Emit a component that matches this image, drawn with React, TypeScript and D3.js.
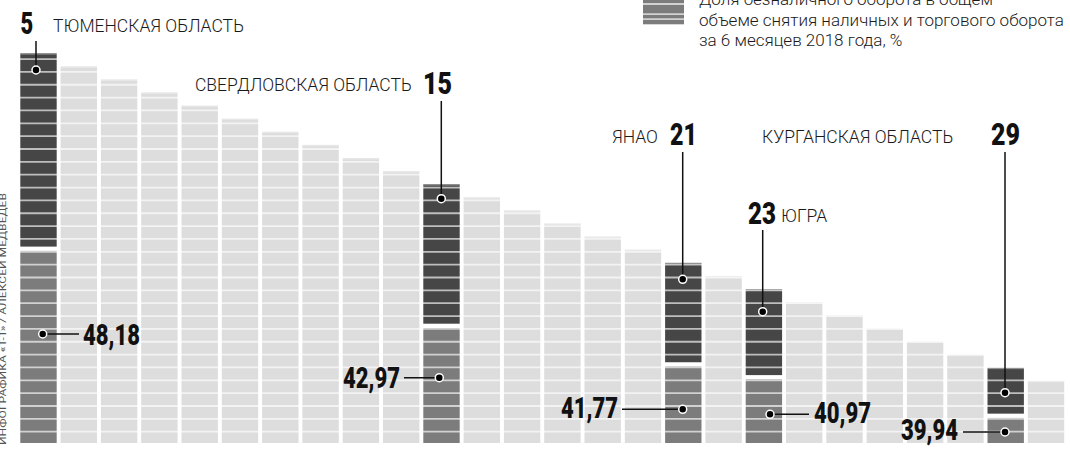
import React, { useEffect, useRef } from 'react';
import * as d3 from 'd3';

// Rank of each region (bars run from 5th to 30th place)
const ranks = [5, 6, 7, 8, 9, 10, 11, 12, 13, 14, 15, 16, 17, 18, 19, 20, 21, 22, 23, 24, 25, 26, 27, 28, 29, 30];
// Bar heights in stripe units
const barLevels = [30.45, 29.43, 28.41, 27.4, 26.38, 25.36, 24.34, 23.32, 22.3, 21.28, 20.26, 19.24, 18.22,
  17.2, 16.18, 15.16, 14.14, 13.12, 12.1, 11.08, 10.06, 9.04, 8.02, 7.0, 5.98, 4.96];

// Highlighted regions
const hlRanks = [5, 15, 21, 23, 29];
const hlNames = ['ТЮМЕНСКАЯ ОБЛАСТЬ', 'СВЕРДЛОВСКАЯ ОБЛАСТЬ', 'ЯНАО', 'ЮГРА', 'КУРГАНСКАЯ ОБЛАСТЬ'];
const hlShares = [48.18, 42.97, 41.77, 40.97, 39.94];
// stripe where the grey (cashless) part starts
const hlSplit = [15, 9, 6, 5, 2];

const legendLines = [
  'Доля безналичного оборота в общем',
  'объеме снятия наличных и торгового оборота',
  'за 6 месяцев 2018 года, %'
];
const credit = 'ИНФОГРАФИКА «Т-Т» / АЛЕКСЕЙ МЕДВЕДЕВ';

const FONT = "Roboto, 'Noto Sans', sans-serif";

const App = () => {
  const svgRef = useRef<SVGSVGElement>(null);

  useEffect(() => {
    if (!svgRef.current) return;
    const svg = d3.select(svgRef.current);
    svg.selectAll('*').remove();

    const width = 1070;
    const height = 450;
    const baseline = 443;

    const x = d3.scaleBand<number>()
      .domain(ranks)
      .range([20.3, 1064.2])
      .paddingInner(0.097)
      .paddingOuter(0);

    const y = d3.scaleLinear()
      .domain([0, 30])
      .range([444.55, 444.55 - 30 * 12.85]);

    const light = '#dddddd';
    const dark = '#464646';
    const mid = '#7c7c7c';

    // bars
    const bars = svg.append('g');
    ranks.forEach((r, i) => {
      const top = y(barLevels[i]);
      const hi = hlRanks.indexOf(r);
      if (hi < 0) {
        bars.append('rect')
          .attr('x', x(r)!).attr('y', top)
          .attr('width', x.bandwidth()).attr('height', baseline - top)
          .attr('fill', light);
      } else {
        const greyTop = y(hlSplit[hi]) - 0.9;
        bars.append('rect')
          .attr('x', x(r)!).attr('y', top)
          .attr('width', x.bandwidth()).attr('height', greyTop - 4.3 - top)
          .attr('fill', dark);
        bars.append('rect')
          .attr('x', x(r)!).attr('y', greyTop)
          .attr('width', x.bandwidth()).attr('height', baseline - greyTop)
          .attr('fill', mid);
      }
      // light edge at the top of every bar
      bars.append('rect')
        .attr('x', x(r)!).attr('y', top)
        .attr('width', x.bandwidth()).attr('height', 1.5)
        .attr('fill', '#fff').attr('opacity', 0.3);
    });

    // horizontal stripes
    svg.append('g')
      .selectAll('line')
      .data(d3.range(1, 31))
      .enter()
      .append('line')
      .attr('x1', 20).attr('x2', 1065)
      .attr('y1', d => y(d)).attr('y2', d => y(d))
      .attr('stroke', '#fff')
      .attr('stroke-opacity', 0.65)
      .attr('stroke-width', 1.8);

    // annotation layout
    const ann = [
      { rankX: 20.5, rankW: 12.7, rankBase: 34.3, nameX: 53, nameBase: 32.3,
        lineTop: 41, topDx: -2.5, topY: 70, botDx: 4.2, botY: 334, side: 'right', lineEnd: 79, valX: 83, valBase: 345 },
      { rankX: 423, rankW: 29, rankBase: 94, nameX: 195, nameBase: 91,
        lineTop: 101, topDx: -0.2, topY: 198.7, botDx: -2.2, botY: 377.7, side: 'left', lineEnd: 404, valX: 400, valBase: 388 },
      { rankX: 670, rankW: 27, rankBase: 145, nameX: 612, nameBase: 143,
        lineTop: 152, topDx: -0.6, topY: 279.3, botDx: -0.6, botY: 409.3, side: 'left', lineEnd: 622, valX: 618, valBase: 418 },
      { rankX: 748, rankW: 28, rankBase: 224, nameX: 781, nameBase: 222,
        lineTop: 230, topDx: -1.2, topY: 311.7, botDx: 6.1, botY: 414.3, side: 'right', lineEnd: 809, valX: 814, valBase: 423 },
      { rankX: 991, rankW: 29, rankBase: 145, nameX: 762, nameBase: 143,
        lineTop: 152, topDx: -0.7, topY: 392.7, botDx: -0.7, botY: 432, side: 'left', lineEnd: 963, valX: 958, valBase: 440 }
    ];

    const fmt = (v: number) => d3.format('.2f')(v).replace('.', ',');
    const g = svg.append('g');

    hlRanks.forEach((r, i) => {
      const a = ann[i];
      const cx = x(r)! + x.bandwidth() / 2;
      const tx = cx + a.topDx;
      const bx = cx + a.botDx;

      // rank number
      g.append('text')
        .attr('x', a.rankX).attr('y', a.rankBase)
        .attr('font-family', FONT).attr('font-weight', 900).attr('font-size', 31)
        .attr('textLength', a.rankW).attr('lengthAdjust', 'spacingAndGlyphs')
        .attr('fill', '#111')
        .text(String(r));

      // region name
      g.append('text')
        .attr('x', a.nameX).attr('y', a.nameBase)
        .attr('font-family', FONT).attr('font-weight', 300).attr('font-size', 17.5)
        .attr('fill', '#1a1a1a')
        .text(hlNames[i]);

      // vertical leader + dot
      g.append('line')
        .attr('x1', tx).attr('x2', tx)
        .attr('y1', a.lineTop).attr('y2', a.topY)
        .attr('stroke', '#111').attr('stroke-width', 1.5);
      g.append('circle')
        .attr('cx', tx).attr('cy', a.topY).attr('r', 4)
        .attr('fill', '#000').attr('stroke', '#fff').attr('stroke-width', 1.5);

      // value leader + dot
      g.append('line')
        .attr('x1', bx).attr('x2', a.lineEnd)
        .attr('y1', a.botY).attr('y2', a.botY)
        .attr('stroke', '#111').attr('stroke-width', 1.5);
      g.append('circle')
        .attr('cx', bx).attr('cy', a.botY).attr('r', 4)
        .attr('fill', '#000').attr('stroke', '#fff').attr('stroke-width', 1.5);

      g.append('text')
        .attr('x', a.valX).attr('y', a.valBase)
        .attr('text-anchor', a.side === 'right' ? 'start' : 'end')
        .attr('font-family', FONT).attr('font-weight', 900).attr('font-size', 29)
        .attr('textLength', 57).attr('lengthAdjust', 'spacingAndGlyphs')
        .attr('fill', '#111')
        .text(fmt(hlShares[i]));
    });

    // legend
    const lg = svg.append('g');
    lg.append('rect')
      .attr('x', 643).attr('y', -2).attr('width', 41).attr('height', 26.3)
      .attr('fill', mid);
    [4, 14.2, 19.2].forEach(ly => {
      lg.append('line')
        .attr('x1', 643).attr('x2', 684).attr('y1', ly).attr('y2', ly)
        .attr('stroke', '#fff').attr('stroke-opacity', 0.65).attr('stroke-width', 1.8);
    });
    legendLines.forEach((t, i) => {
      lg.append('text')
        .attr('x', 699).attr('y', 5 + i * 20.7)
        .attr('font-family', FONT).attr('font-weight', 300).attr('font-size', 17)
        .attr('fill', '#1a1a1a')
        .text(t);
    });

    // vertical credit
    svg.append('text')
      .attr('transform', 'translate(6,445) rotate(-90)')
      .attr('font-family', FONT).attr('font-size', 9.5)
      .attr('fill', '#555')
      .attr('textLength', 252).attr('lengthAdjust', 'spacingAndGlyphs')
      .text(credit);

    svg.attr('width', width).attr('height', height);
  }, []);

  return (
    <div style={{ width: 1070, height: 450, overflow: 'hidden' }}>
      <style>{'body{margin:0}'}</style>
      <svg ref={svgRef} width={1070} height={450} style={{ display: 'block', background: '#fff' }} />
    </div>
  );
};

export default App;
